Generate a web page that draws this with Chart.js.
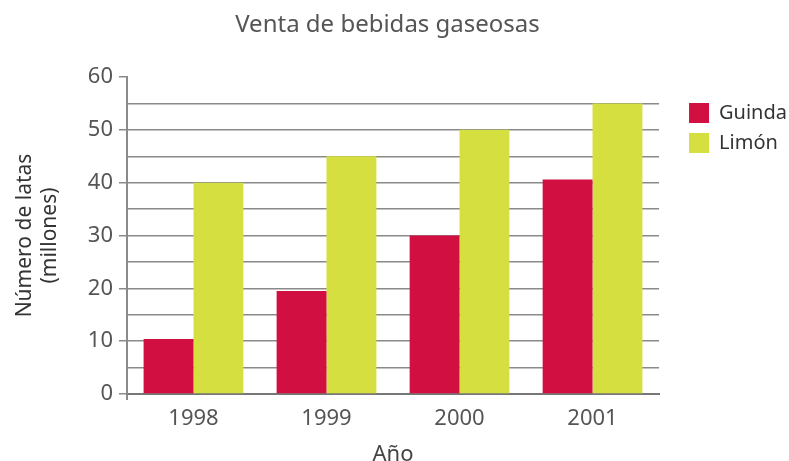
<!DOCTYPE html>
<html>
<head>
<meta charset="utf-8">
<script src="https://cdn.jsdelivr.net/npm/chart.js@4"></script>
<style>
    html, body { margin: 0; padding: 0; background: #fff; }
</style>
</head>
<body>
<canvas id="salesChart" width="789" height="461"></canvas>
<script>
// Chart data
const years = ["1998", "1999", "2000", "2001"];
const guindaValues = [10.4, 19.5, 30, 40.6];
const limonValues = [40, 45, 50, 55];
const seriesNames = ["Guinda", "Limón"];
const yMin = 0;
const yMax = 60;
const yStep = 5;

const fontFamily = "'Noto Sans', sans-serif";
const gridGrey = "#8a8a8a";
const textGrey = "#555555";

// Nudge legend (away from the plot, down) and title (a bit left)
const shiftBoxes = {
    id: "shiftBoxes",
    afterLayout(chart) {
        const legend = chart.legend;
        legend.left += 20;
        legend.right += 20;
        legend.top += 87;
        legend.bottom += 87;
        const title = chart.titleBlock;
        if (title) {
            title.left -= 6;
            title.right -= 6;
        }
    }
};

const ctx = document.getElementById("salesChart").getContext("2d");

const salesChart = new Chart(ctx, {
    type: "bar",
    data: {
        labels: years,
        datasets: [{
            label: seriesNames[0],
            data: guindaValues,
            backgroundColor: "#d11041",
        }, {
            label: seriesNames[1],
            data: limonValues,
            backgroundColor: "#d5e040",
        }]
    },
    options: {
        responsive: false,
        animation: false,
        layout: { padding: { left: 10, right: 12, top: 6, bottom: 0 } },
        datasets: {
            bar: { categoryPercentage: 0.75, barPercentage: 1.0 }
        },
        plugins: {
            title: {
                display: true,
                text: "Venta de bebidas gaseosas",
                color: textGrey,
                font: { family: fontFamily, size: 24, weight: "normal", lineHeight: 1.2 },
                padding: { top: 4.6, bottom: 37.6 }
            },
            legend: {
                position: "right",
                align: "start",
                labels: {
                    boxWidth: 20,
                    boxHeight: 20,
                    padding: 10,
                    color: "#333333",
                    font: { family: fontFamily, size: 20 }
                }
            },
            tooltip: { enabled: false }
        },
        scales: {
            x: {
                grid: {
                    drawOnChartArea: false,
                    tickLength: 6,
                    lineWidth: 2,
                    color: (c) => c.index === 0 ? gridGrey : "transparent"
                },
                border: { color: "#777777", width: 2 },
                ticks: {
                    color: textGrey,
                    padding: 8,
                    font: { family: fontFamily, size: 22, lineHeight: 1 }
                },
                title: {
                    display: true,
                    text: "Año",
                    color: "#444444",
                    padding: { top: 6, bottom: -5 },
                    font: { family: fontFamily, size: 22, lineHeight: 1 }
                }
            },
            y: {
                min: yMin,
                max: yMax,
                ticks: {
                    stepSize: yStep,
                    autoSkip: false,
                    color: textGrey,
                    padding: 6,
                    font: { family: fontFamily, size: 22 },
                    callback: (value) => value % 10 === 0 ? value : ""
                },
                grid: {
                    tickLength: 8,
                    lineWidth: 1.5,
                    color: (c) => (c.tick && (c.tick.value === yMax || c.tick.value === yMin)) ? "transparent" : gridGrey,
                    tickColor: (c) => (c.tick && c.tick.value % 10 === 0) ? gridGrey : "transparent"
                },
                border: { color: gridGrey, width: 2 },
                title: {
                    display: true,
                    text: ["Número de latas", "(millones)"],
                    color: "#333333",
                    padding: { top: 2.4, bottom: 19 },
                    font: { family: fontFamily, size: 21, lineHeight: 1.2 }
                }
            }
        }
    },
    plugins: [shiftBoxes]
});
</script>
</body>
</html>
